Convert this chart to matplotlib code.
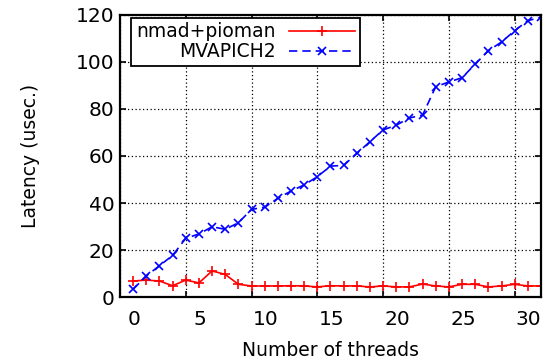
import matplotlib
matplotlib.use('Agg')
import matplotlib.pyplot as plt
import matplotlib.transforms as mtransforms

threads = list(range(1, 33))
nmad_pioman = [6.8, 7.2, 6.8, 4.8, 7.2, 6.0, 11.1, 9.6, 5.4, 4.7, 4.7, 4.7, 4.8, 4.7, 4.3, 4.8,
               4.7, 4.7, 4.3, 4.7, 4.3, 4.3, 5.5, 4.7, 4.3, 5.4, 5.4, 4.3, 4.7, 5.4, 4.7, 4.7]
mvapich2 = [3.3, 9.0, 13.3, 17.7, 25.0, 26.8, 29.9, 28.8, 31.6, 37.3, 38.2, 42.0, 45.1, 47.7, 51.2, 55.7,
            56.0, 61.1, 66.1, 71.1, 73.1, 76.2, 77.4, 89.5, 91.5, 93.3, 99.1, 104.8, 108.5, 113.3, 117.6, 119.0]
xticks = [0, 5, 10, 15, 20, 25, 30]
yticks = [0, 20, 40, 60, 80, 100, 120]

fig = plt.figure(figsize=(5.54, 3.63), dpi=100)
ax = fig.add_axes([0.2166, 0.1818, 0.9765 - 0.2166, 0.9587 - 0.1818])

ax.plot(threads, nmad_pioman, color='#ff0000', linestyle='-', marker='+', markersize=7,
        markeredgewidth=1.2, linewidth=1.2, label='nmad+pioman')
ax.plot(threads, mvapich2, color='#0000ff', linestyle=(0, (5, 3)), marker='x', markersize=5.5,
        markeredgewidth=1.2, linewidth=1.2, label='MVAPICH2')

ax.set_xlim(0, 32)
ax.set_ylim(0, 120)
ax.set_xticks(xticks)
ax.set_yticks(yticks)
ax.grid(True, color='black', linestyle=(0, (1, 2)), linewidth=0.9)
ax.set_axisbelow(True)
ax.tick_params(direction='in', top=True, right=True, length=4, width=1.2, labelsize=14.5)
ax.tick_params(axis='x', pad=9)
ax.tick_params(axis='y', pad=4)
for s in ax.spines.values():
    s.set_linewidth(1.6)

# gnuplot-style labels sit a little right of their ticks
offset = mtransforms.ScaledTranslation(0.14, 0, fig.dpi_scale_trans)
for lbl in ax.get_xticklabels():
    lbl.set_transform(lbl.get_transform() + offset)

ax.set_xlabel('Number of threads', fontsize=13.5, labelpad=9)
ax.set_ylabel('Latency (usec.)', fontsize=13.5, labelpad=26)

leg = ax.legend(loc='upper left', markerfirst=False, fontsize=13.5, handlelength=3.5,
                handletextpad=0.75, borderaxespad=0.15, bbox_to_anchor=(0.02, 1.0),
                fancybox=False, framealpha=1, edgecolor='black', borderpad=0.25,
                labelspacing=0.05)
leg.get_frame().set_linewidth(1.3)

plt.savefig('out.png', dpi=100)
